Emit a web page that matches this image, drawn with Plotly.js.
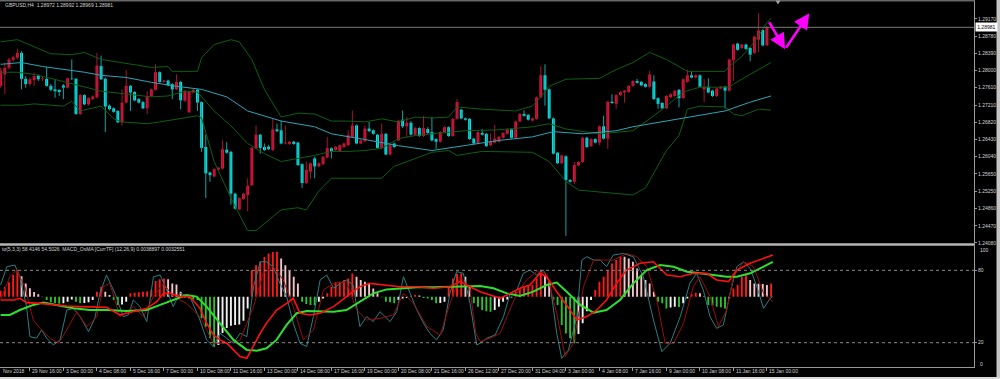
<!DOCTYPE html>
<html><head><meta charset="utf-8">
<script src="https://cdn.plot.ly/plotly-3.0.1.min.js"></script>
<style>html,body{margin:0;padding:0;background:#000;}#chart{width:1000px;height:379px;}</style>
</head><body><div id="chart"></div>
<script>
// ---------- Price data (GBPUSD H4), one value per bar ----------
const openP = [1.2765,1.2791,1.2806,1.2824,1.2829,1.2840,1.2781,1.2769,1.2778,1.2789,
1.2780,1.2781,1.2765,1.2757,1.2756,1.2766,1.2761,1.2782,1.2781,1.2701,
1.2744,1.2723,1.2735,1.2739,1.2810,1.2781,1.2720,1.2714,1.2708,1.2682,
1.2727,1.2765,1.2751,1.2735,1.2728,1.2714,1.2742,1.2756,1.2796,1.2774,
1.2777,1.2769,1.2757,1.2774,1.2731,1.2705,1.2750,1.2756,1.2728,1.2626,
1.2568,1.2559,1.2574,1.2577,1.2620,1.2615,1.2520,1.2484,1.2508,1.2517,
1.2539,1.2623,1.2654,1.2626,1.2627,1.2619,1.2666,1.2664,1.2634,1.2633,
1.2638,1.2636,1.2587,1.2544,1.2570,1.2600,1.2582,1.2587,1.2602,1.2623,
1.2619,1.2617,1.2626,1.2630,1.2649,1.2675,1.2634,1.2639,1.2668,1.2664,
1.2654,1.2624,1.2656,1.2609,1.2634,1.2641,1.2688,1.2673,1.2681,1.2654,
1.2669,1.2651,1.2667,1.2660,1.2644,1.2638,1.2660,1.2671,1.2651,1.2690,
1.2711,1.2691,1.2690,1.2645,1.2634,1.2658,1.2656,1.2630,1.2636,1.2638,
1.2647,1.2656,1.2666,1.2647,1.2684,1.2701,1.2699,1.2686,1.2690,1.2739,
1.2789,1.2757,1.2691,1.2613,1.2589,1.2605,1.2551,1.2547,1.2584,1.2592,
1.2647,1.2628,1.2644,1.2636,1.2673,1.2645,1.2729,1.2724,1.2744,1.2750,
1.2751,1.2765,1.2776,1.2774,1.2769,1.2763,1.2775,1.2737,1.2726,1.2714,
1.2739,1.2742,1.2756,1.2737,1.2774,1.2789,1.2784,1.2789,1.2757,1.2763,
1.2754,1.2742,1.2759,1.2763,1.2754,1.2823,1.2861,1.2851,1.2859,1.2851,
1.2840,1.2870,1.2892,1.2857,1.28972];
const highP = [1.2806,1.2817,1.2829,1.2834,1.2849,1.2844,1.2787,1.2784,1.2795,1.2791,
1.2787,1.2808,1.2769,1.2780,1.2757,1.2769,1.2784,1.2825,1.2783,1.2746,
1.2746,1.2739,1.2743,1.2840,1.2834,1.2784,1.2723,1.2716,1.2710,1.2757,
1.2801,1.2767,1.2753,1.2737,1.2731,1.2753,1.2759,1.2814,1.2798,1.2779,
1.2779,1.2771,1.2791,1.2776,1.2755,1.2753,1.2758,1.2758,1.2730,1.2654,
1.2570,1.2578,1.2581,1.2641,1.2637,1.2617,1.2522,1.2512,1.2522,1.2555,
1.2626,1.2675,1.2656,1.2634,1.2631,1.2690,1.2679,1.2686,1.2675,1.2640,
1.2640,1.2638,1.2589,1.2593,1.2591,1.2604,1.2591,1.2606,1.2649,1.2625,
1.2628,1.2632,1.2636,1.2664,1.2709,1.2677,1.2643,1.2675,1.2683,1.2666,
1.2656,1.2679,1.2658,1.2636,1.2636,1.2688,1.2709,1.2694,1.2685,1.2672,
1.2671,1.2697,1.2671,1.2694,1.2646,1.2662,1.2673,1.2673,1.2692,1.2735,
1.2713,1.2693,1.2692,1.2647,1.2662,1.2667,1.2658,1.2656,1.2676,1.2651,
1.2660,1.2668,1.2668,1.2686,1.2703,1.2709,1.2701,1.2693,1.2741,1.2810,
1.2814,1.2759,1.2693,1.2615,1.2609,1.2607,1.2553,1.2592,1.2594,1.2649,
1.2649,1.2646,1.2646,1.2675,1.2697,1.2731,1.2746,1.2746,1.2753,1.2756,
1.2767,1.2778,1.2781,1.2776,1.2771,1.2799,1.2789,1.2739,1.2728,1.2744,
1.2748,1.2756,1.2758,1.2782,1.2802,1.2799,1.2791,1.2791,1.2780,1.2782,
1.2756,1.2761,1.2765,1.2765,1.2827,1.2861,1.2863,1.2861,1.2861,1.2853,
1.2879,1.2930,1.2894,1.2901,1.28992];
const lowP = [1.2761,1.2746,1.2802,1.2820,1.2825,1.2757,1.2761,1.2765,1.2765,1.2776,
1.2776,1.2763,1.2753,1.2738,1.2742,1.2735,1.2759,1.2778,1.2699,1.2699,
1.2721,1.2720,1.2733,1.2736,1.2778,1.2660,1.2709,1.2704,1.2680,1.2675,
1.2725,1.2708,1.2730,1.2725,1.2712,1.2701,1.2740,1.2754,1.2772,1.2772,
1.2764,1.2735,1.2755,1.2712,1.2729,1.2703,1.2748,1.2708,1.2615,1.2510,
1.2547,1.2557,1.2572,1.2575,1.2611,1.2495,1.2484,1.2482,1.2506,1.2480,
1.2537,1.2621,1.2611,1.2617,1.2619,1.2617,1.2660,1.2632,1.2632,1.2631,
1.2631,1.2583,1.2533,1.2542,1.2554,1.2555,1.2580,1.2585,1.2600,1.2600,
1.2617,1.2615,1.2624,1.2628,1.2647,1.2632,1.2632,1.2637,1.2660,1.2654,
1.2622,1.2622,1.2607,1.2607,1.2624,1.2639,1.2669,1.2649,1.2652,1.2652,
1.2649,1.2649,1.2656,1.2639,1.2622,1.2636,1.2658,1.2649,1.2649,1.2688,
1.2689,1.2686,1.2642,1.2632,1.2632,1.2652,1.2626,1.2628,1.2634,1.2636,
1.2645,1.2654,1.2645,1.2645,1.2682,1.2695,1.2686,1.2684,1.2688,1.2737,
1.2720,1.2689,1.2609,1.2587,1.2587,1.2424,1.2545,1.2542,1.2582,1.2590,
1.2624,1.2626,1.2634,1.2630,1.2643,1.2622,1.2724,1.2713,1.2742,1.2727,
1.2749,1.2763,1.2770,1.2764,1.2761,1.2759,1.2733,1.2713,1.2712,1.2712,
1.2737,1.2740,1.2716,1.2735,1.2772,1.2782,1.2782,1.2761,1.2728,1.2748,
1.2740,1.2740,1.2757,1.2713,1.2752,1.2776,1.2845,1.2849,1.2847,1.2821,
1.2838,1.2842,1.2855,1.2855,1.28969];
const closeP = [1.2799,1.2806,1.2825,1.2830,1.2840,1.2781,1.2769,1.2780,1.2787,1.2780,
1.2782,1.2765,1.2756,1.2753,1.2751,1.2761,1.2782,1.2781,1.2701,1.2744,
1.2723,1.2737,1.2741,1.2811,1.2780,1.2718,1.2712,1.2706,1.2682,1.2727,
1.2765,1.2750,1.2732,1.2727,1.2714,1.2742,1.2757,1.2796,1.2774,1.2777,
1.2766,1.2757,1.2774,1.2732,1.2753,1.2751,1.2756,1.2727,1.2624,1.2566,
1.2562,1.2576,1.2579,1.2621,1.2613,1.2520,1.2486,1.2510,1.2520,1.2538,
1.2624,1.2654,1.2624,1.2619,1.2621,1.2666,1.2662,1.2634,1.2636,1.2638,
1.2633,1.2585,1.2544,1.2574,1.2589,1.2582,1.2589,1.2604,1.2624,1.2617,
1.2626,1.2630,1.2634,1.2653,1.2675,1.2634,1.2641,1.2668,1.2662,1.2656,
1.2624,1.2656,1.2609,1.2630,1.2626,1.2686,1.2673,1.2681,1.2654,1.2669,
1.2651,1.2669,1.2658,1.2641,1.2638,1.2660,1.2671,1.2651,1.2690,1.2728,
1.2691,1.2688,1.2644,1.2634,1.2660,1.2654,1.2628,1.2638,1.2645,1.2649,
1.2658,1.2666,1.2647,1.2684,1.2701,1.2697,1.2688,1.2691,1.2739,1.2789,
1.2756,1.2691,1.2611,1.2589,1.2607,1.2551,1.2547,1.2585,1.2592,1.2647,
1.2626,1.2644,1.2636,1.2673,1.2645,1.2729,1.2726,1.2744,1.2751,1.2754,
1.2765,1.2776,1.2772,1.2766,1.2763,1.2791,1.2735,1.2724,1.2714,1.2742,
1.2746,1.2754,1.2737,1.2780,1.2789,1.2784,1.2789,1.2763,1.2763,1.2750,
1.2742,1.2759,1.2763,1.2754,1.2825,1.2859,1.2847,1.2859,1.2849,1.2836,
1.2877,1.2891,1.2857,1.2898,1.28981];

// ---------- Bollinger bands & moving average (bar index, price) ----------
const bbUpperX = [0,4,8,12,17,20,24,32,36,40,41,47,48,51,55,57,60,63,67,71,75,79,83,87,91,95,99,103,107,109,115,123,127,130,131,135,143,147,151,155,159,162,164,167,173,174,177,180,183,184];
const bbUpperY = [1.2865,1.2870,1.2854,1.2838,1.2836,1.2841,1.2825,1.2814,1.2807,1.2809,1.2798,1.2798,1.2829,1.2859,1.2870,1.2865,1.2825,1.2757,1.2694,1.2703,1.2701,1.2685,1.2685,1.2683,1.2690,1.2683,1.2694,1.2692,1.2694,1.2717,1.2712,1.2708,1.2719,1.2751,1.2764,1.2780,1.2782,1.2802,1.2818,1.2841,1.2825,1.2809,1.2798,1.2798,1.2798,1.2809,1.2832,1.2865,1.2908,1.2919];
const bbMidX = [0,4,8,12,24,34,36,40,44,47,51,55,59,63,67,71,75,79,83,87,91,95,99,103,111,119,127,131,135,143,151,155,159,163,167,174,175,179,184];
const bbMidY = [1.2796,1.2796,1.2791,1.2782,1.2753,1.2742,1.2740,1.2742,1.2753,1.2751,1.2708,1.2674,1.2634,1.2611,1.2593,1.2600,1.2607,1.2616,1.2616,1.2618,1.2623,1.2645,1.2652,1.2656,1.2663,1.2665,1.2672,1.2679,1.2667,1.2656,1.2663,1.2690,1.2719,1.2751,1.2762,1.2762,1.2769,1.2791,1.2818];
const bbLowerX = [0,5,8,15,17,19,24,27,29,35,38,47,48,51,55,59,61,67,71,73,76,79,83,91,94,99,103,107,109,115,127,131,135,138,147,151,154,157,159,162,164,167,173,175,177,181,184];
const bbLowerY = [1.2721,1.2721,1.2724,1.2719,1.2730,1.2708,1.2719,1.2690,1.2683,1.2679,1.2683,1.2697,1.2692,1.2593,1.2510,1.2436,1.2436,1.2483,1.2488,1.2483,1.2526,1.2555,1.2555,1.2555,1.2582,1.2600,1.2614,1.2618,1.2607,1.2616,1.2614,1.2593,1.2548,1.2528,1.2521,1.2517,1.2533,1.2584,1.2618,1.2652,1.2712,1.2719,1.2717,1.2701,1.2697,1.2712,1.2710];
const maX = [0,5,10,16,20,24,30,36,42,48,54,59,67,75,79,87,95,103,111,119,127,132,139,147,151,159,167,173,179,184];
const maY = [1.2814,1.2818,1.2809,1.2802,1.2796,1.2789,1.2784,1.2773,1.2764,1.2757,1.2740,1.2708,1.2685,1.2672,1.2656,1.2643,1.2629,1.2618,1.2629,1.2641,1.2649,1.2661,1.2656,1.2663,1.2672,1.2685,1.2697,1.2708,1.2728,1.2742];

// ---------- Indicator window (0..100 scale) ----------
const osmaHist = [5,8,12,18,22,17,11,7,4,2,
-0.5,-2.8,-4.5,-5.3,-5.8,-5.4,-4.1,-2.2,-4.1,-5.5,
-5.3,-4.6,-2.8,4.1,8.3,4.1,1.5,-2.8,-6.9,-6.5,
-4.1,2.8,3.3,3.8,4.1,4.4,5.5,13,14.4,15.2,
14.4,11,10.2,4.1,-0.8,-1.4,-2.2,-2.8,-17.9,-24.8,
-34.5,-41.4,-40,-30,-26,-24,-23.5,-23,-20,-9.7,
22,26.2,29,33,35.9,37,37.3,31.7,26.2,22,
16.6,11,-4.1,-6.1,-6.9,-7,-4.1,-1.4,2.8,8.3,
12,12.4,13.8,15.2,19.3,16.6,13.8,12.4,11,6.9,
2.8,-0.5,-4.1,-4.5,-5.5,-2.8,-1.5,-1,0.8,1.5,
1,-1,-1.5,-2.8,-5.5,-5.2,-4.1,8.3,15.2,19,
19.3,16.6,8,-5.5,-8.3,-11,-12,-12.4,-11,-8.3,
-4.1,-2.2,-0.6,4.1,6.9,8.3,8.8,9.7,15.2,22,
17.9,12.4,-2.8,-6.9,-23.5,-30.4,-34.5,-38.6,-31,-22,
-12,-2.8,5.5,12.4,16.6,22,27.6,30.4,33.5,33.1,
31.7,29,23.5,17.9,13.8,11,4.1,-4.1,-5.5,-9.7,
-9,-8.3,-8.5,-5.5,-1.4,2.2,3.3,2.8,0.3,-6.9,
-7.2,-8.3,-8.8,-9.7,-1.4,6.9,9.7,16.6,17.9,13.8,
11,10.8,10.5,9.7,11];
const stochMainX = [0,1.5,3.4,4.6,6.2,7,8.6,9.8,11,12.6,14.2,15.8,17.4,19,21,22.5,23.7,25.3,27.3,29.3,30.5,31.7,33.3,34.9,36.5,38.1,39.7,41.2,42.8,45.2,47.6,49.2,50.8,52.4,55.6,57.2,58.8,60.4,62,63.5,65.1,66.7,68.3,69.9,71.5,73.1,74.7,76.3,77.9,79.5,81.1,82.6,84.2,85.8,87.4,89,90.6,93,94.6,96.2,97.8,99.4,101,102.5,104.1,105.7,107.3,108.9,110.5,112.1,113.7,
114.5,116.1,118.1,120.1,121.7,123.3,124.8,126.4,128,129.6,131.2,132.8,134,135.6,137.6,138.8,140,141.6,143.2,144.7,146.3,148.7,151.1,153.5,155.9,157.9,159.9,162.3,164.6,166.2,167.8,169.4,171,172.6,174.2,175.8,177.4,179,180.6,182.2,183.8,184.4];
const stochMainY = [67.8,83,84.4,74.7,49.9,25,23.7,30.6,23.7,18.1,22.3,47.1,48.5,41.6,29.2,40.2,60.9,76.1,60.9,41.6,43,55.4,49.9,37.5,74.7,76.1,63.7,49.9,60.9,58.2,38.8,22.3,16.8,27.8,19.5,27.8,25,66.4,87.1,87.1,83,69.2,58.2,36.1,19.5,16.8,41.6,72,76.1,65.1,69.2,72,67.8,33.3,41.6,37.5,45.7,37.5,45.7,74.7,60.9,47.1,36.1,27.8,22.3,30.6,60.9,78.9,77.5,52.6,18.1,
19.5,23.7,26.4,41.6,60.9,63.7,77.5,80.2,76.1,80.2,69.2,27.8,7.1,14,41.6,88.5,91.3,88.5,88.5,83,92.7,94,91.3,74.7,38.8,12.6,19.5,41.6,69.2,77.5,63.7,41.6,31.9,34.7,60.9,83,87.1,81.6,66.4,48.5,56.8,58.2];
const stochSigX = [0,2.2,3.8,5.8,7.8,9.4,11.8,13.8,15.8,18.2,20.6,23,24.5,26.1,28.5,31.7,34.1,36.5,38.9,41.2,44.4,47.6,50.8,54,57.2,60.4,62.7,65.1,67.5,69.9,72.3,74.7,77.1,79.5,82.6,85,87.4,90.6,93.8,96.2,98.6,101.8,105,107.3,109.7,112.1,113.5,
114.5,116.9,119.3,120.9,123.3,125.6,128,130.4,132.8,134.8,136.8,139.2,141.6,144,146.3,149.5,151.9,154.3,156.7,158.7,160.7,163.1,165.4,167,169.4,171.4,173.4,175,177.4,179.8,182.2,184.4];
const stochSigY = [55.4,74.7,80.2,66.4,38.8,31.9,23.7,19.5,30.6,45.7,33.3,41.6,66.4,69.2,41.6,49.9,41.6,58.2,69.2,58.2,52.6,41.6,19.5,19.5,22.3,49.9,77.5,83,72,49.9,22.3,30.6,63.7,69.2,70.6,47.1,38.8,40.2,43,60.9,52.6,33.3,26.4,52.6,74.7,63.7,28,
21,23.7,27.8,41.6,60.9,72,78.9,77.5,44.4,8.5,19.5,66.4,88.5,88.5,88.5,94,91.3,83,55.4,19.5,19.5,36.1,66.4,74.7,58.2,33.3,47.1,74.7,87.1,83,60.9,54];
const macdRedX = [0,3.2,4.6,6.2,9.4,12.6,15.8,19,22.2,25.3,28.5,31.7,34.9,37.3,38.9,40.5,42.8,45.2,47.6,49.2,50.8,52.4,54,55.6,57.2,58.8,60.4,62,63.5,65.9,68.3,69.9,71.5,73.9,76.3,79.5,82.6,85.8,88.2,91.4,95.4,99.4,103.3,107.3,109.7,112.1,
114.5,116.9,119.3,121.7,124,126.4,128.8,130.4,132.8,136,137.6,140,142.4,144.7,147.1,149.5,152.7,155.9,157.5,159.1,162.3,165.4,168.6,171,173.8,175.8,179,182.2,184.4];
const macdRedY = [55.4,55.4,56.8,53.2,52.6,51.3,50.4,49.9,49.3,49.3,43,45.7,48.5,54,60.9,60.9,58.2,58.2,48.5,36.1,26.4,22.3,19.5,14,8.5,7.1,18.1,27.8,36.1,47.1,52.6,56.8,44.4,43,44.4,49.9,58.2,66.4,69.2,67.8,66.4,66.4,65.1,66.4,70.6,66.4,
62.3,59.5,56.8,60.9,65.1,67.8,77.5,74.7,62.3,47.1,38.8,41.6,47.1,55.4,69.2,80.2,85.8,87.1,81.6,76.1,74.7,77.5,77.5,72,70.6,80.2,85.8,89.9,92.7];
const macdGreenX = [0,2.2,4.6,7.8,10.2,13.4,17.4,21.3,25.3,30.1,34.9,38.1,41.2,44.4,46.8,49.2,52.4,55.6,58.8,61.2,63.5,65.9,68.3,70.7,73.1,76.3,79.5,82.6,85.8,89,92.2,95.4,99.4,103.3,107.3,111.3,
114.5,117.7,120.9,124,127.2,130.4,132.8,135.2,138.4,141.6,144.7,147.9,151.1,154.3,157.5,160.7,163.9,167,170.2,173.4,175.8,179,182.2,184.4];
const macdGreenY = [43,43,47.1,51.3,53.2,51.3,48.5,47.1,47.1,46.3,47.1,51.3,55.4,59.5,58.2,49.9,36.1,22.3,14,13.4,15.4,22.3,34.7,44.4,46.3,46.3,45.7,47.1,54,60.9,64.2,65.1,65.9,65.9,66.4,67,
67,65.1,60.9,58.7,62.3,67.8,69.8,62.3,51.3,44.9,47.1,55.4,69.2,80.2,84.4,83,78.9,77.5,76.1,74.7,74.7,77.5,83,87.1];

// ---------- Labels ----------
const priceTicks = [1.29170,1.28780,1.28390,1.28000,1.27610,1.27210,1.26820,1.26430,1.26040,1.25650,1.25250,1.24860,1.24470,1.24080];
const levelTicks = [20,80];
const levelEnds = [100,0];
const timeTickIdx = [7,15,23,31,39,47,55,63,71,79,87,95,103,111,119,127,135,143,151,159,167,175,183];
const timeTickText = ["29 Nov 16:00","3 Dec 00:00","4 Dec 08:00","5 Dec 16:00","7 Dec 00:00","10 Dec 08:00","11 Dec 16:00","13 Dec 00:00","14 Dec 08:00","17 Dec 16:00","19 Dec 00:00","20 Dec 08:00","21 Dec 16:00","26 Dec 12:00","27 Dec 20:00","31 Dec 04:00","3 Jan 00:00","4 Jan 08:00","7 Jan 16:00","9 Jan 00:00","10 Jan 08:00","11 Jan 16:00","15 Jan 00:00"];
const firstDateText = "Nov 2018";
const titleText = "GBPUSD,H4\u00a0\u00a01.28972 1.28992 1.28969 1.28981";
const indicatorText = "to(5,3,3) 58.4146 54.5026\u00a0\u00a0MACD_OsMA [CurrTF] (12,26,9) 0.0038897 0.0032551";
const bidPrice = 1.28981;
const arrowPath = [[183.33,1.29132],[187.32,1.28482],[193.12,1.29300]];
const HIST_BASE = 58.1;

// ---------- Build ----------
const FONT = "Liberation Sans, Arial, sans-serif";
const FS = 5;
const TXT = "#d2d2d2";
const idx = openP.map((_, i) => i);
const bull = idx.map(i => closeP[i] >= openP[i]);
const bodyBase = idx.map(i => Math.min(openP[i], closeP[i]));
const bodyLen = idx.map(i => Math.max(Math.abs(closeP[i] - openP[i]), 0.00005));
const bodyCol = idx.map(i => bull[i] ? "#dc143c" : "#00eaea");

function wicks(up) {
  const x = [], y = [];
  idx.forEach(i => { if (bull[i] === up) { x.push(i, i, null); y.push(lowP[i], highP[i], null); } });
  return {x, y};
}
const wUp = wicks(true), wDn = wicks(false);

const histCol = osmaHist.map((h, i) => {
  const prev = i > 0 ? osmaHist[i - 1] : h;
  if (h >= 0) return h >= prev ? "#ff1a1a" : "#f5c4c8";
  return h <= prev ? "#2fc12f" : "#f2f2f2";
});

const line = (x, y, color, w, ya) => ({type: "scatter", mode: "lines", x, y, yaxis: ya, xaxis: "x",
  line: {color, width: w}, hoverinfo: "skip", showlegend: false});

const traces = [
  {type: "scatter", mode: "lines", x: wUp.x, y: wUp.y, line: {color: "#a51530", width: 1}, hoverinfo: "skip", showlegend: false, connectgaps: false},
  {type: "scatter", mode: "lines", x: wDn.x, y: wDn.y, line: {color: "#17a3a3", width: 1}, hoverinfo: "skip", showlegend: false, connectgaps: false},
  {type: "bar", x: idx, base: bodyBase, y: bodyLen, width: 0.7, marker: {color: bodyCol, line: {width: 0}}, hoverinfo: "skip", showlegend: false},
  line(bbUpperX, bbUpperY, "#0f5e14", 1, "y"),
  line(bbMidX, bbMidY, "#0f5e14", 1, "y"),
  line(bbLowerX, bbLowerY, "#0f5e14", 1, "y"),
  line(maX, maY, "#2aa6b6", 1, "y"),
  {type: "bar", x: idx, base: HIST_BASE, y: osmaHist, width: 0.45, yaxis: "y2", xaxis: "x", marker: {color: histCol, line: {width: 0}}, hoverinfo: "skip", showlegend: false},
  line(stochMainX, stochMainY, "#2b7f80", 1, "y2"),
  line(stochSigX, stochSigY, "#9a0c0c", 1, "y2"),
  line(macdGreenX, macdGreenY, "#2ee02e", 2, "y2"),
  line(macdRedX, macdRedY, "#ff1010", 1.6, "y2")
];

const font = {family: FONT, size: FS, color: TXT};
const annotations = [];
timeTickIdx.forEach((t, k) => annotations.push({x: t, xref: "x", y: 0.0198, yref: "paper", text: timeTickText[k],
  showarrow: false, xanchor: "left", yanchor: "middle", xshift: 0.5, font}));
annotations.push({x: 0.001, xref: "paper", y: 0.0198, yref: "paper", text: firstDateText, showarrow: false,
  xanchor: "left", yanchor: "middle", font});
annotations.push({x: 0.003, xref: "paper", y: 0.9868, yref: "paper", text: titleText, showarrow: false,
  xanchor: "left", yanchor: "middle", font});
annotations.push({x: 0.0, xref: "paper", y: 0.3417, yref: "paper", text: indicatorText, showarrow: false,
  xanchor: "left", yanchor: "middle", font});
// 100 / 0 level labels sit just inside the indicator window edges
annotations.push({x: 0.9775, xref: "paper", y: (379 - 249.5) / 379, yref: "paper", text: String(levelEnds[0]), showarrow: false,
  xanchor: "left", yanchor: "middle", font});
annotations.push({x: 0.9775, xref: "paper", y: (379 - 364) / 379, yref: "paper", text: String(levelEnds[1]), showarrow: false,
  xanchor: "left", yanchor: "middle", font});
annotations.push({x: 0.9752, xref: "paper", y: bidPrice, yref: "y", text: bidPrice.toFixed(5), showarrow: false,
  xanchor: "left", yanchor: "middle", bgcolor: "#ffffff", borderpad: 1.2, font: {family: FONT, size: FS, color: "#000000"}});
for (let k = 0; k < arrowPath.length - 1; k++) {
  annotations.push({x: arrowPath[k + 1][0], y: arrowPath[k + 1][1], xref: "x", yref: "y",
    ax: arrowPath[k][0], ay: arrowPath[k][1], axref: "x", ayref: "y", text: "", showarrow: true,
    arrowhead: 2, arrowsize: 1.2, arrowwidth: 2.6, arrowcolor: "#ff00ff", standoff: 0, startstandoff: 0});
}

const shapes = [
  {type: "line", xref: "paper", yref: "y", x0: 0, x1: 0.974, y0: bidPrice, y1: bidPrice, line: {color: "#7a7a7a", width: 1}},
  {type: "line", xref: "paper", yref: "paper", x0: 0, x1: 0.975, y0: 0.3547, y1: 0.3547, line: {color: "#b4b4b4", width: 2.5}},
  {type: "line", xref: "paper", yref: "paper", x0: 0, x1: 0.975, y0: 0.9978, y1: 0.9978, line: {color: "#9a9a9a", width: 1}},
  {type: "line", xref: "paper", yref: "y2", x0: 0, x1: 0.974, y0: 80, y1: 80, line: {color: "#8a8a8a", width: 1, dash: "dot"}},
  {type: "line", xref: "paper", yref: "y2", x0: 0, x1: 0.974, y0: 20, y1: 20, line: {color: "#8a8a8a", width: 1, dash: "dot"}},
  {type: "rect", xref: "paper", yref: "paper", x0: 0.9965, x1: 1, y0: 0, y1: 1, line: {width: 0}, fillcolor: "#c4c4c4"},
  {type: "rect", xref: "paper", yref: "paper", x0: 0, x1: 1, y0: 0, y1: 0.005, line: {width: 0}, fillcolor: "#d8d8d8"},
  {type: "path", xref: "paper", yref: "paper", path: "M 0.7755 0.999 L 0.7805 0.999 L 0.778 0.988 Z", line: {width: 0}, fillcolor: "#a0a0a0"}
];

const layout = {
  width: 1000, height: 379, margin: {l: 0, r: 0, t: 0, b: 0},
  paper_bgcolor: "#000000", plot_bgcolor: "#000000", showlegend: false, barmode: "overlay",
  xaxis: {domain: [0, 0.974], range: [-0.143, 232.45], anchor: "y2", showgrid: false, zeroline: false,
    showticklabels: false, ticks: "outside", ticklen: 3, tickcolor: "#9a9a9a", tickvals: timeTickIdx,
    showline: true, linecolor: "#9a9a9a", linewidth: 1, fixedrange: true},
  yaxis: {domain: [0.35884, 0.99736], range: [1.24078, 1.29579], anchor: "x", side: "right", showgrid: false,
    zeroline: false, tickvals: priceTicks, ticktext: priceTicks.map(v => v.toFixed(5)), ticks: "outside", ticklen: 2,
    tickcolor: "#9a9a9a", tickfont: font, showline: true, linecolor: "#9a9a9a",
    automargin: false, fixedrange: true},
  yaxis2: {domain: [0.03219, 0.3504], range: [0, 100], anchor: "x", side: "right", showgrid: false, zeroline: false,
    tickvals: levelTicks, ticktext: levelTicks.map(String), ticks: "outside", ticklen: 2, tickcolor: "#9a9a9a",
    tickfont: font, showline: true, linecolor: "#9a9a9a", automargin: false, fixedrange: true},
  annotations, shapes
};

Plotly.newPlot("chart", traces, layout, {displayModeBar: false, staticPlot: true});
</script>
</body></html>
